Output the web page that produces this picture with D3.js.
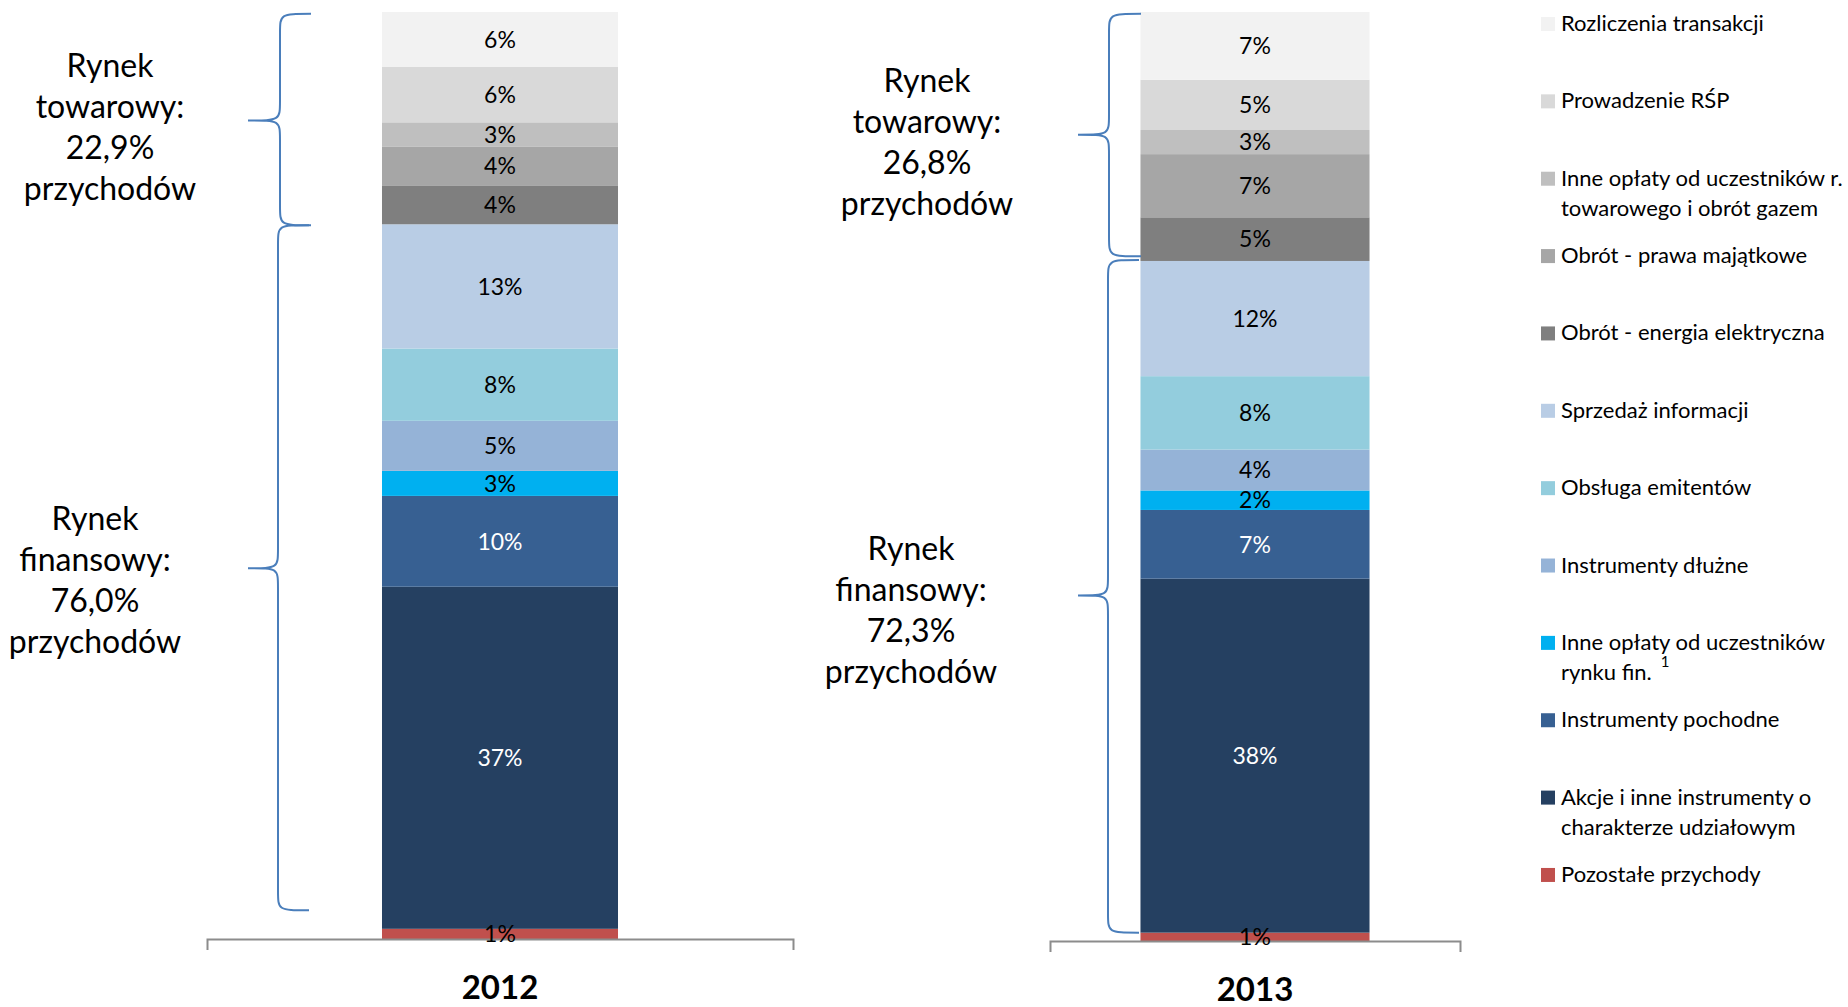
<!DOCTYPE html>
<html>
<head>
<meta charset="utf-8">
<script src="https://cdn.jsdelivr.net/npm/d3@7"></script>
<style>
  html, body { margin: 0; padding: 0; background: #fff; }
  svg { display: block; font-family: Lato, "Open Sans", sans-serif; }
</style>
</head>
<body>
<svg id="chart" width="1848" height="1007"></svg>
<script>
// Revenue structure by source, % of total revenue; series listed bottom → top of each stack
const categories = [
  "Pozostałe przychody",
  "Akcje i inne instrumenty o charakterze udziałowym",
  "Instrumenty pochodne",
  "Inne opłaty od uczestników rynku fin.",
  "Instrumenty dłużne",
  "Obsługa emitentów",
  "Sprzedaż informacji",
  "Obrót - energia elektryczna",
  "Obrót - prawa majątkowe",
  "Inne opłaty od uczestników r. towarowego i obrót gazem",
  "Prowadzenie RŚP",
  "Rozliczenia transakcji"
];
const years = ["2012", "2013"];
const values2012 = [1.1, 36.9, 9.8, 2.7, 5.4, 7.8, 13.4, 4.2, 4.2, 2.6, 6.0, 5.9];
const values2013 = [0.9, 38.1, 7.4, 2.1, 4.4, 7.9, 12.4, 4.7, 6.8, 2.6, 5.4, 7.3];
const colors = ["#C0504D", "#254061", "#376092", "#00B0F0", "#95B3D7", "#93CDDD",
                "#B9CDE5", "#7F7F7F", "#A6A6A6", "#BFBFBF", "#D9D9D9", "#F2F2F2"];
const footnotes = { "Inne opłaty od uczestników rynku fin.": "1" };

// Market groups and their share of revenue per year
const markets = ["Rynek towarowy:", "Rynek finansowy:"];
const marketShares2012 = [22.9, 76.0];
const marketShares2013 = [26.8, 72.3];

const svg = d3.select("#chart");
const color = d3.scaleOrdinal().domain(categories).range(colors);
const fmtPct = v => Math.round(v) + "%";
const fmtShare = v => d3.format(".1f")(v).replace(".", ",") + "%";

// One table row per year, built from the series arrays
const table = years.map((y, yi) => {
  const row = { year: y };
  const vals = yi === 0 ? values2012 : values2013;
  categories.forEach((c, i) => row[c] = vals[i]);
  return row;
});
const stacked = d3.stack().keys(categories)(table);

// Layout of each year panel
const panels = [
  { year: "2012", shares: marketShares2012, axis: [207, 793], axisY: 939, top: 12, outer: 0.7415,
    braces: [ { from: 77.0, to: 99.8, tip: 88.3, xEnd: 311, xLine: 280, xTip: 248 },
              { from: 3.1,  to: 77.0, tip: 40.0, xEnd: 309, xLine: 278, xTip: 248 } ],
    notes: [ { x: 110, y: 77 }, { x: 95, y: 530 } ] },
  { year: "2013", shares: marketShares2013, axis: [1050, 1460], axisY: 941, top: 12, outer: 0.395,
    braces: [ { from: 73.7, to: 99.8, tip: 86.8, xEnd: 1141, xLine: 1109, xTip: 1078 },
              { from: 0.9,  to: 73.3, tip: 37.2, xEnd: 1139, xLine: 1108, xTip: 1078 } ],
    notes: [ { x: 927, y: 92 }, { x: 911, y: 560 } ] }
];

function bracePath(b, y) {
  const yTop = y(b.to), yBot = y(b.from), yTip = y(b.tip);
  const r = 20;
  return `M${b.xEnd},${yTop}` +
         `C${b.xLine},${yTop} ${b.xLine},${yTop} ${b.xLine},${yTop + r}` +
         `L${b.xLine},${yTip - r}` +
         `C${b.xLine},${yTip} ${b.xLine},${yTip} ${b.xTip},${yTip}` +
         `C${b.xLine},${yTip} ${b.xLine},${yTip} ${b.xLine},${yTip + r}` +
         `L${b.xLine},${yBot - r}` +
         `C${b.xLine},${yBot} ${b.xLine},${yBot} ${b.xEnd},${yBot}`;
}

panels.forEach((p, pi) => {
  const g = svg.append("g");
  const x = d3.scaleBand().domain([p.year]).range(p.axis).paddingInner(0).paddingOuter(p.outer);
  const y = d3.scaleLinear().domain([0, 100]).range([p.axisY, p.top]);

  // stacked segments
  const segs = stacked.map(s => ({ key: s.key, d: s[pi] }));
  g.selectAll("rect.seg").data(segs).join("rect")
    .attr("class", "seg")
    .attr("x", x(p.year))
    .attr("width", x.bandwidth())
    .attr("y", d => y(d.d[1]))
    .attr("height", d => y(d.d[0]) - y(d.d[1]))
    .attr("fill", d => color(d.key));

  // category axis with end ticks
  const axis = g.append("g")
    .attr("transform", `translate(0,${p.axisY})`)
    .call(d3.axisBottom(x).tickSizeInner(0).tickSizeOuter(11).tickPadding(37));
  axis.select(".domain").attr("stroke", "#8C8C8C").attr("stroke-width", 2);
  axis.selectAll(".tick line").remove();
  axis.selectAll(".tick text")
    .attr("font-family", "Lato, sans-serif")
    .attr("font-size", 33).attr("font-weight", 700).attr("fill", "#000");

  // value labels centred in each segment
  g.selectAll("text.val").data(segs).join("text")
    .attr("class", "val")
    .attr("x", x(p.year) + x.bandwidth() / 2)
    .attr("y", d => (y(d.d[0]) + y(d.d[1])) / 2)
    .attr("dy", "0.36em")
    .attr("text-anchor", "middle")
    .attr("font-size", 23)
    .attr("fill", d => d3.hsl(color(d.key)).l < 0.45 ? "#fff" : "#000")
    .text(d => fmtPct(d.d[1] - d.d[0]));

  // braces marking market groups
  g.selectAll("path.brace").data(p.braces).join("path")
    .attr("class", "brace")
    .attr("d", b => bracePath(b, y))
    .attr("fill", "none")
    .attr("stroke", "#4A7EBB")
    .attr("stroke-width", 2);

  // market group notes
  p.notes.forEach((n, mi) => {
    const lines = markets[mi].split(" ").concat([fmtShare(p.shares[mi]), "przychodów"]);
    const t = g.append("text")
      .attr("text-anchor", "middle")
      .attr("font-size", 32)
      .attr("fill", "#000");
    lines.forEach((l, li) => t.append("tspan").attr("x", n.x).attr("y", n.y + li * 41).text(l));
  });
});

// Legend, top → bottom in reverse stacking order
const legend = svg.append("g").attr("transform", "translate(1541,0)");
const legendCats = categories.slice().reverse();
const maxW = 300;
legendCats.forEach((c, i) => {
  const cy = 24 + i * 77.36;
  legend.append("rect")
    .attr("x", 0).attr("y", cy - 7).attr("width", 14).attr("height", 14)
    .attr("fill", color(c));
  const t = legend.append("text")
    .attr("font-size", 22).attr("fill", "#000");
  // word wrap into lines no wider than maxW
  const words = c.split(" ");
  let line = [], lineNo = 0;
  let ts = t.append("tspan").attr("x", 20).attr("y", cy + 7);
  words.forEach(w => {
    line.push(w);
    ts.text(line.join(" "));
    if (ts.node().getComputedTextLength() > maxW && line.length > 1) {
      line.pop();
      ts.text(line.join(" "));
      line = [w];
      lineNo++;
      ts = t.append("tspan").attr("x", 20).attr("y", cy + 7 + lineNo * 30).text(w);
    }
  });
  if (footnotes[c]) {
    t.append("tspan").attr("dx", 9).attr("dy", -13).attr("font-size", 15).text(footnotes[c]);
  }
});
</script>
</body>
</html>
